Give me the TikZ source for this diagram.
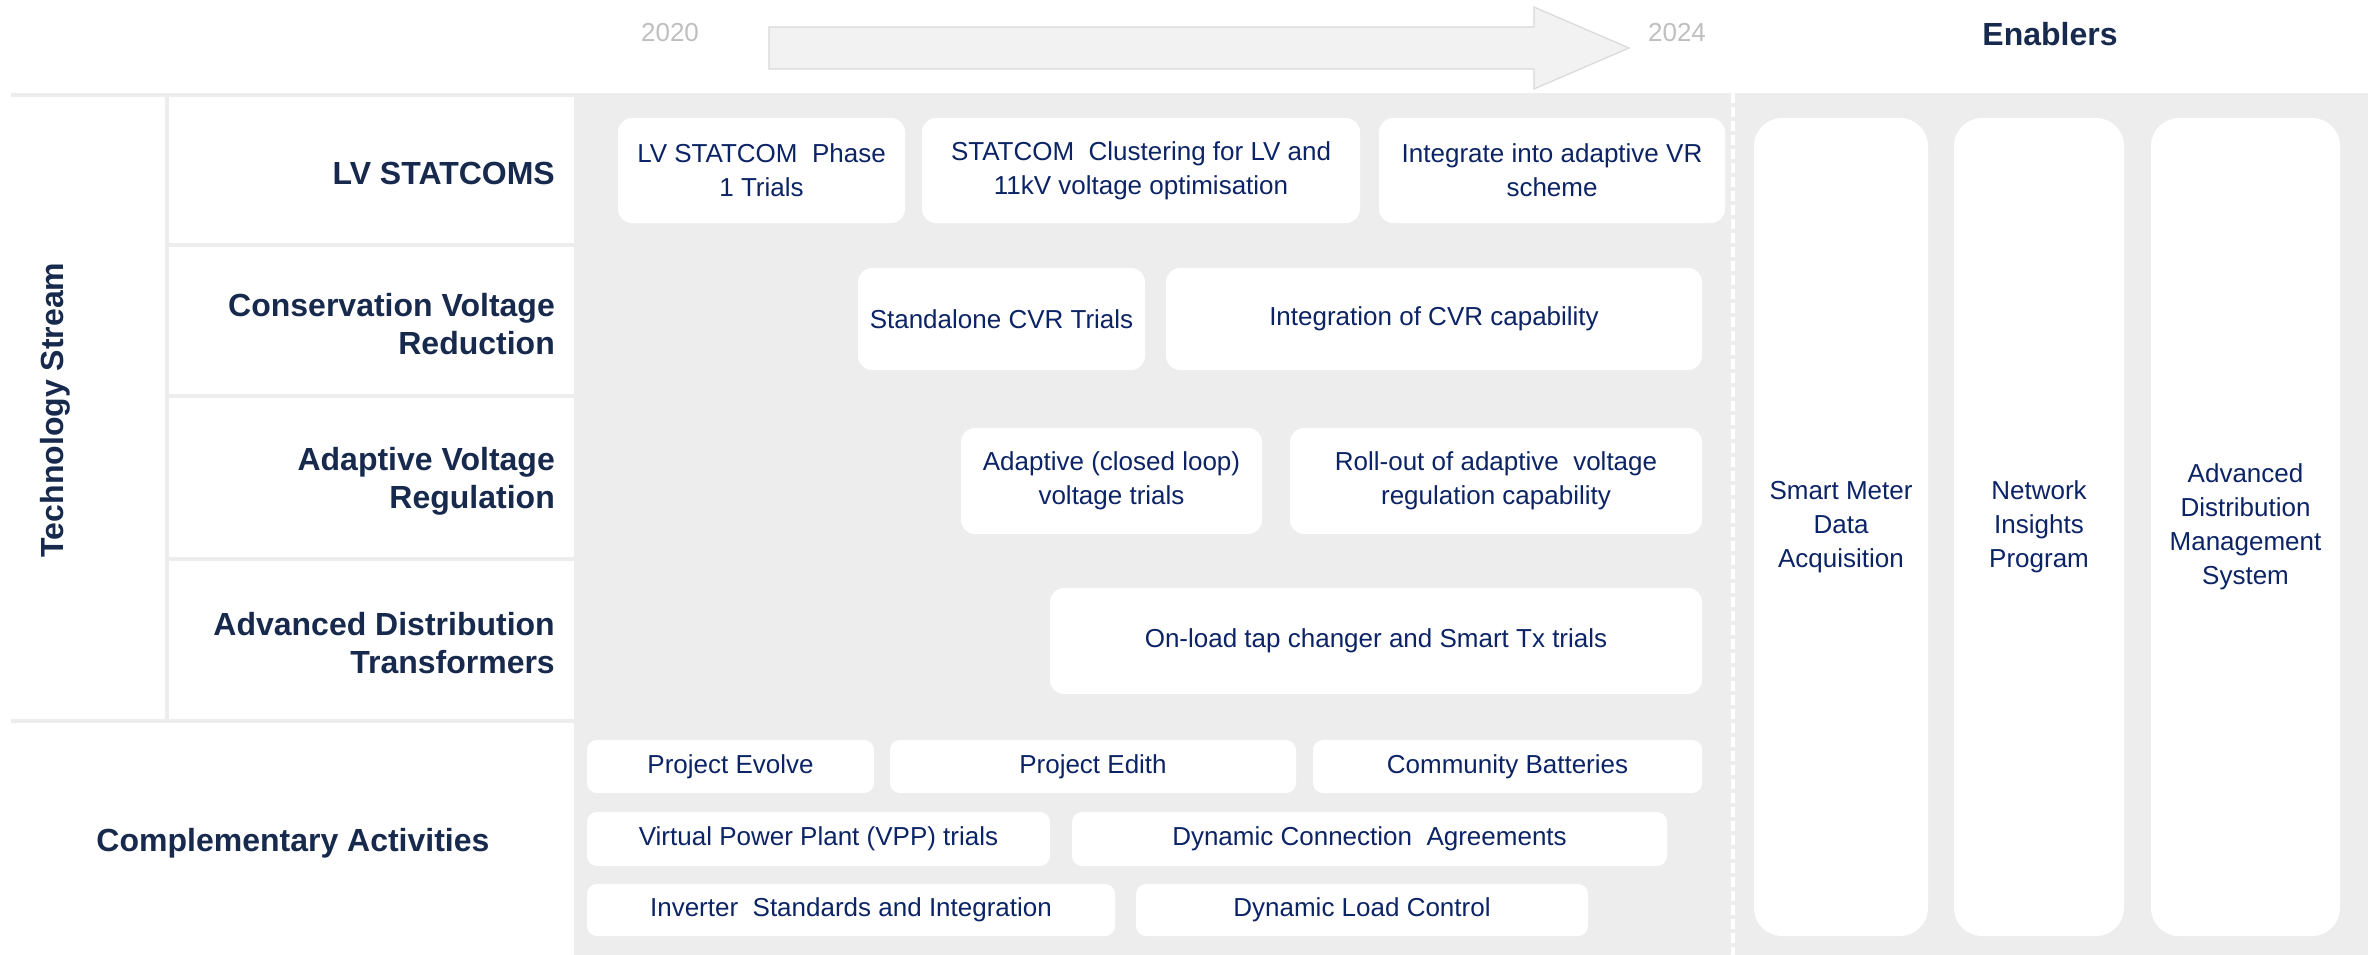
\documentclass[tikz,border=0pt]{standalone}
\usepackage{fontspec}
\setmainfont{Liberation Sans}
\definecolor{bggrey}{HTML}{EDEDED}
\definecolor{arrowfill}{HTML}{F2F2F2}
\definecolor{arrowline}{HTML}{D9D9D9}
\definecolor{yeargrey}{HTML}{BFBFBF}
\definecolor{labelnavy}{HTML}{172A4D}
\definecolor{boxnavy}{HTML}{0C2466}
\tikzset{
  abox/.style={fill=white, draw=none, rounded corners=14pt, inner sep=0pt, align=center,
    text=boxnavy, font=\fontsize{26}{34}\selectfont},
  cbox/.style={abox, rounded corners=10pt},
  ebox/.style={abox, rounded corners=28pt},
  rowlabel/.style={anchor=east, align=right, inner sep=0pt, text=labelnavy,
    font=\fontsize{32}{38}\selectfont\bfseries},
  biglabel/.style={text=labelnavy, font=\fontsize{32}{38}\selectfont\bfseries, inner sep=0pt},
  yearlabel/.style={text=yeargrey, font=\fontsize{26}{30}\selectfont, inner sep=0pt},
  sepline/.style={bggrey, line width=4pt},
}
\begin{document}
\begin{tikzpicture}[x=1pt,y=-1pt]
\useasboundingbox (0,0) rectangle (2376,955);
% grey background
\fill[bggrey] (574,93) rectangle (2368,955);
% left grid lines
\draw[sepline] (11,95) -- (574,95);
\draw[sepline] (167,245) -- (574,245);
\draw[sepline] (167,396) -- (574,396);
\draw[sepline] (167,559) -- (574,559);
\draw[sepline] (11,721) -- (574,721);
\draw[sepline] (167,93) -- (167,721);
% dashed divider
\coordinate (dtop) at (1733,93);
\coordinate (dbot) at (1733,955);
\draw[white, line width=4pt, dash pattern=on 10pt off 4pt] (dtop) -- (dbot);
% timeline arrow
\filldraw[fill=arrowfill, draw=arrowline, line width=1.2pt]
  (769,27) -- (1534,27) -- (1534,7) -- (1629,48) -- (1534,89) -- (1534,69) -- (769,69) -- cycle;
\node[yearlabel] (y2020) at (670,33) {2020};
\node[yearlabel] (y2024) at (1677,33) {2024};
\node[biglabel] (enab) at (2050,34) {Enablers};
% left labels
\node[biglabel, rotate=90] (tech) at (55,410) {Technology Stream};
\node[rowlabel] (lvs) at (555,173) {LV STATCOMS};
\node[rowlabel] (cvr) at (555,324) {Conservation Voltage\\Reduction};
\node[rowlabel] (avr) at (555,481) {Adaptive Voltage\\Regulation};
\node[rowlabel] (adt) at (555,643) {Advanced Distribution\\Transformers};
\node[biglabel] (comp) at (293,843) {Complementary Activities};
% technology boxes
\node[abox, minimum width=287pt, minimum height=105pt] (lv1) at (761.5,170.5) {LV STATCOM\ \ Phase\\1 Trials};
\node[abox, minimum width=438pt, minimum height=105pt] (clu) at (1141,170.5) {STATCOM\ \ Clustering for LV and\\11kV voltage optimisation};
\node[abox, minimum width=346pt, minimum height=105pt] (intg) at (1552,170.5) {Integrate into adaptive VR\\scheme};
\node[abox, minimum width=287pt, minimum height=102pt] (scvr) at (1001.5,319) {Standalone CVR Trials};
\node[abox, minimum width=536pt, minimum height=102pt] (icvr) at (1434,319) {Integration of CVR capability};
\node[abox, minimum width=301pt, minimum height=106pt] (acl) at (1111.5,481) {Adaptive (closed loop)\\voltage trials};
\node[abox, minimum width=412pt, minimum height=106pt] (roll) at (1496,481) {Roll-out of adaptive\ \ voltage\\regulation capability};
\node[abox, minimum width=652pt, minimum height=106pt] (olt) at (1376,641) {On-load tap changer and Smart Tx trials};
% complementary boxes
\node[cbox, minimum width=287pt, minimum height=53pt] (pev) at (730.5,766.5) {Project Evolve};
\node[cbox, minimum width=406pt, minimum height=53pt] (ped) at (1093,766.5) {Project Edith};
\node[cbox, minimum width=389pt, minimum height=53pt] (cb) at (1507.5,766.5) {Community Batteries};
\node[cbox, minimum width=463pt, minimum height=54pt] (vpp) at (818.5,839) {Virtual Power Plant (VPP) trials};
\node[cbox, minimum width=595pt, minimum height=54pt] (dca) at (1369.5,839) {Dynamic Connection\ \ Agreements};
\node[cbox, minimum width=528pt, minimum height=52pt] (inv) at (851,910) {Inverter\ \ Standards and Integration};
\node[cbox, minimum width=452pt, minimum height=52pt] (dlc) at (1362,910) {Dynamic Load Control};
% enablers
\node[ebox, minimum width=174pt, minimum height=818pt] (en1) at (1841,527) {Smart Meter\\Data\\Acquisition};
\node[ebox, minimum width=170pt, minimum height=818pt] (en2) at (2039,527) {Network\\Insights\\Program};
\node[ebox, minimum width=189pt, minimum height=818pt] (en3) at (2245.5,527) {Advanced\\Distribution\\Management\\System};
\end{tikzpicture}
\end{document}
